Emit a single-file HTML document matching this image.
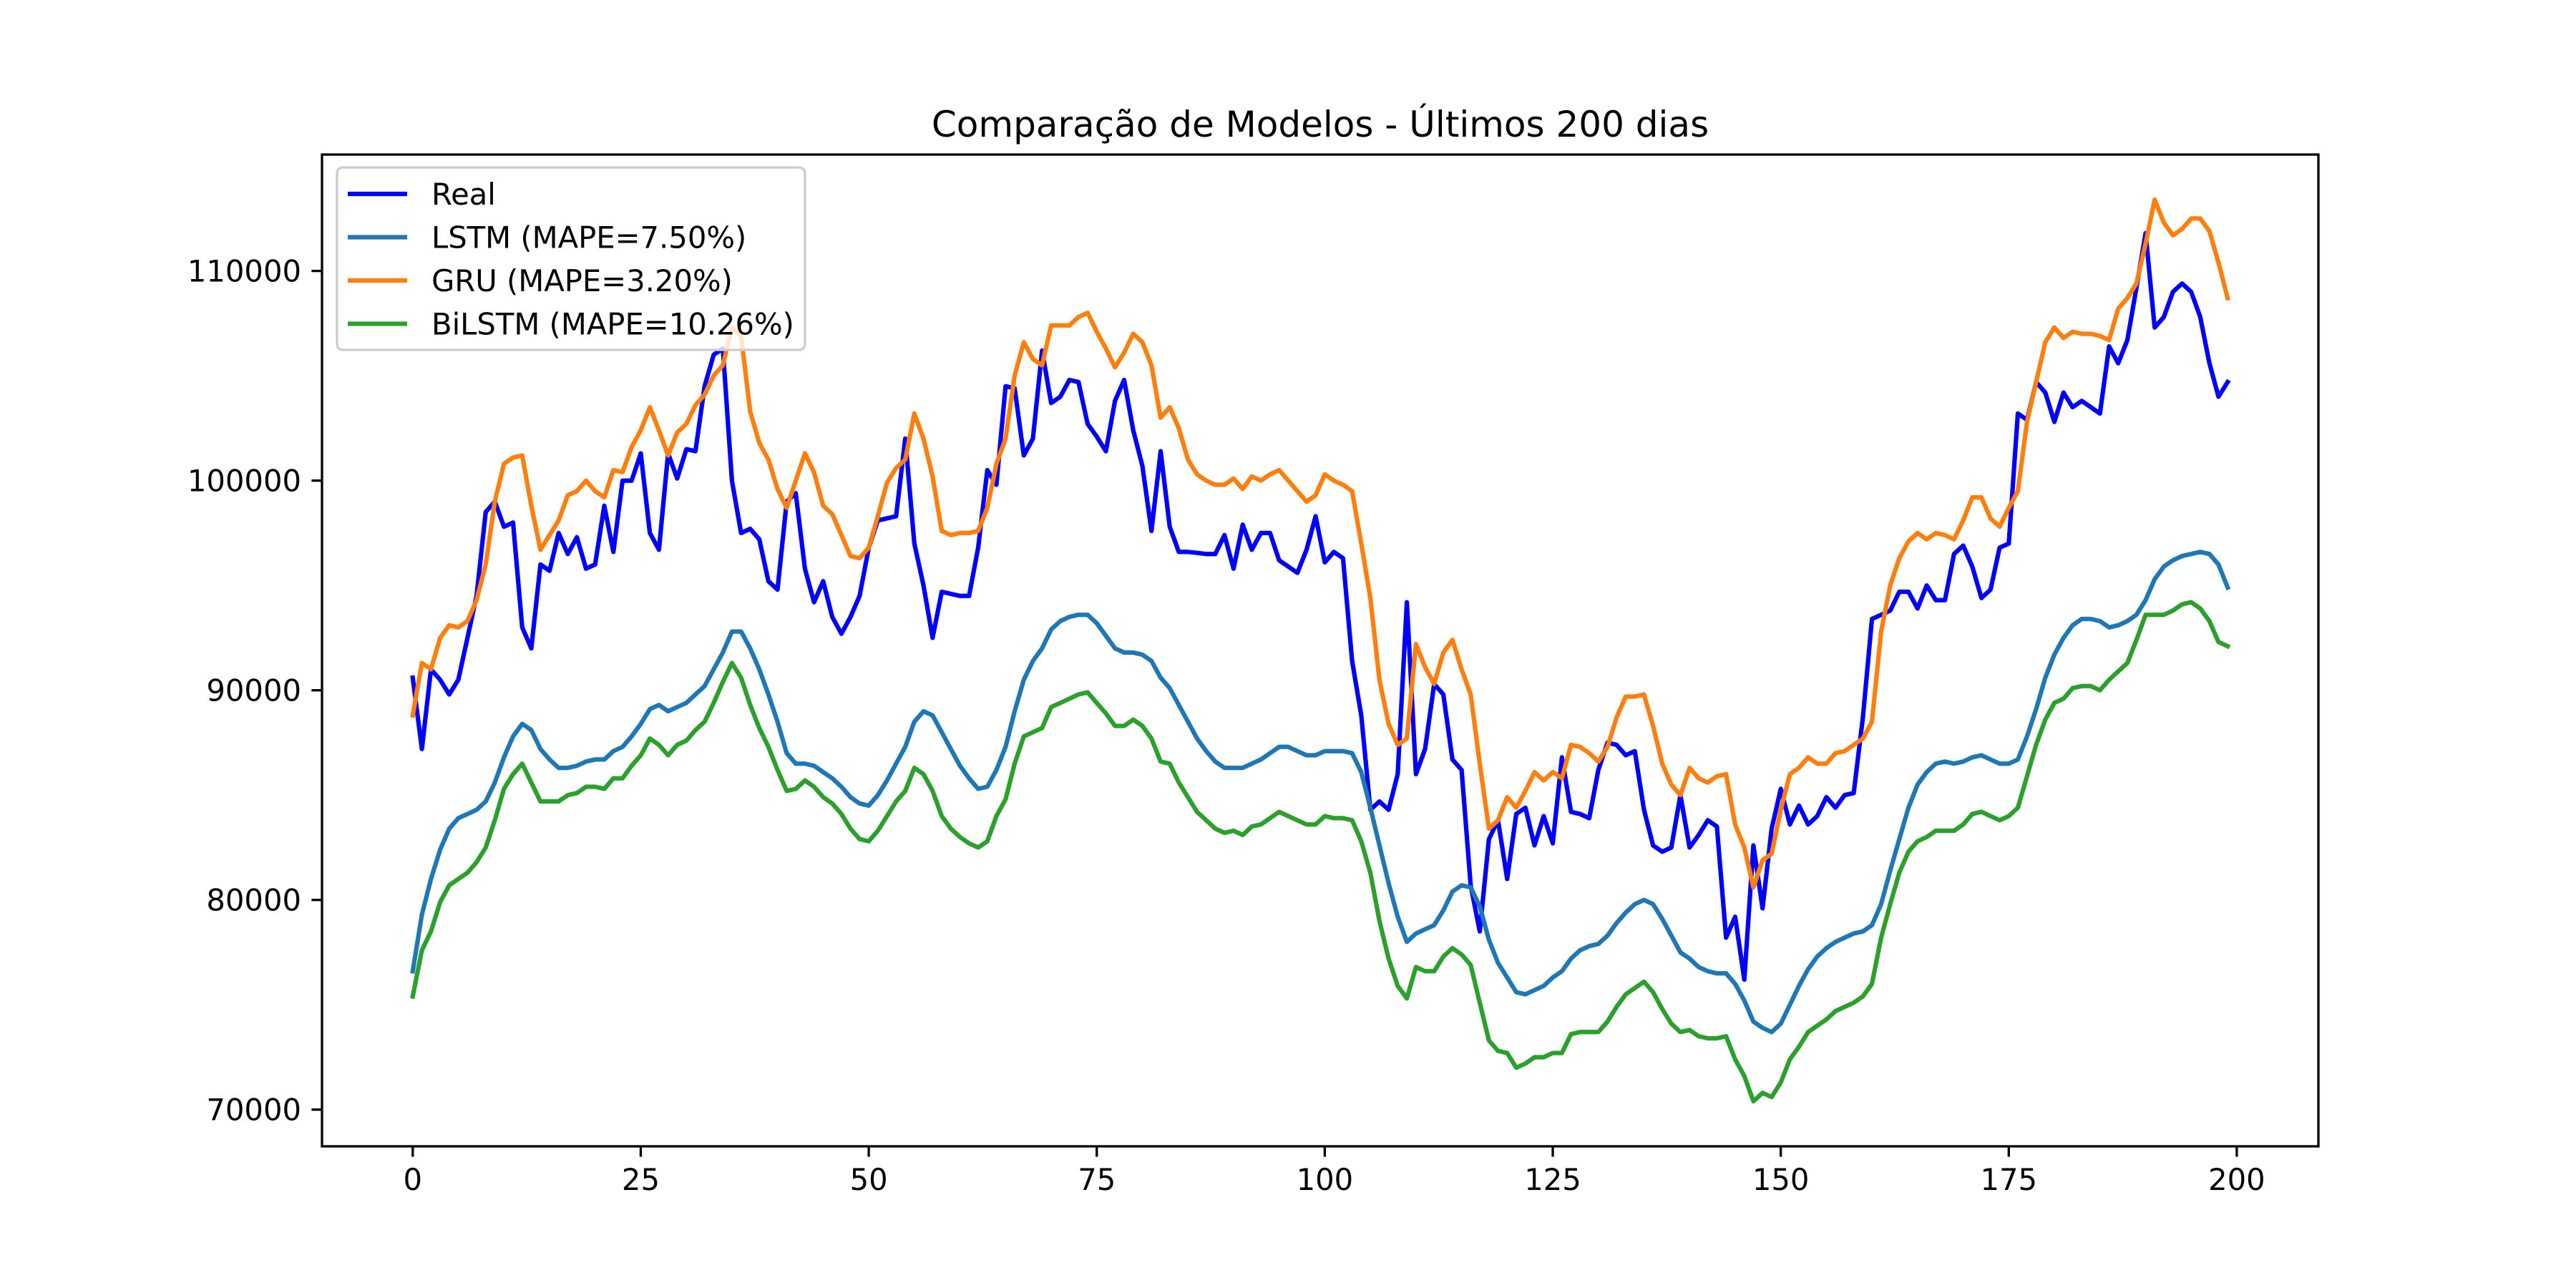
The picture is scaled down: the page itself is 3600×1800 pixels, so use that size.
<!DOCTYPE html>
<html><head><meta charset="utf-8"><style>
html,body{margin:0;padding:0;background:#fff;}
svg{display:block;font-family:"DejaVu Sans","Liberation Sans",sans-serif;}
</style></head><body>
<svg id="chart" width="3600" height="1800" viewBox="0 0 3600 1800" xmlns="http://www.w3.org/2000/svg">
<rect width="3600" height="1800" fill="#fff"/>
<text x="1845" y="191" font-size="50" text-anchor="middle" fill="#000">Comparação de Modelos - Últimos 200 dias</text>
<g id="series"></g>
<rect x="450" y="216" width="2790" height="1386" fill="none" stroke="#000" stroke-width="3.3"/>
<g id="ticks"></g>
<g id="legend"></g>
</svg>
<script>
const realValues=[90600,87200,91000,90500,89800,90500,92500,94500,98500,99000,97800,98000,93000,92000,96000,95700,97500,96500,97300,95800,96000,98800,96600,100000,100000,101300,97500,96700,101300,100100,101500,101400,104500,106000,106300,100000,97500,97700,97200,95200,94800,99000,99400,95800,94200,95200,93500,92700,93500,94500,96800,98100,98200,98300,102000,97000,95000,92500,94700,94600,94500,94500,96800,100500,99800,104500,104400,101200,102000,106200,103700,104000,104800,104700,102700,102100,101400,103800,104800,102400,100700,97600,101400,97800,96600,96600,96550,96500,96500,97400,95800,97900,96700,97500,97500,96200,95900,95600,96700,98300,96100,96600,96300,91400,88800,84300,84700,84300,86000,94200,86000,87200,90300,89800,86700,86200,80700,78500,82900,83800,81000,84100,84400,82600,84000,82700,86800,84200,84100,83900,86200,87500,87400,86900,87100,84300,82600,82300,82500,85000,82500,83100,83800,83500,78200,79200,76200,82600,79600,83400,85300,83600,84500,83600,84000,84900,84400,85000,85100,88700,93400,93600,93800,94700,94700,93900,95000,94300,94300,96500,96900,95900,94400,94800,96800,97000,103200,102900,104700,104200,102800,104200,103500,103800,103500,103200,106400,105600,106700,109200,111800,107300,107800,109000,109400,109000,107800,105600,104000,104700];
const lstmValues=[76600,79300,81000,82400,83400,83900,84100,84300,84700,85600,86800,87800,88400,88100,87200,86700,86300,86300,86400,86600,86700,86700,87100,87300,87800,88400,89100,89300,89000,89200,89400,89800,90200,91000,91800,92800,92800,92000,91000,89800,88500,87000,86500,86500,86400,86100,85800,85400,84900,84600,84500,85000,85700,86500,87300,88500,89000,88800,88000,87200,86400,85800,85300,85400,86200,87300,89000,90500,91400,92000,92900,93300,93500,93600,93600,93200,92600,92000,91800,91800,91700,91400,90600,90100,89300,88500,87700,87100,86600,86300,86300,86300,86500,86700,87000,87300,87300,87100,86900,86900,87100,87100,87100,87000,86100,84400,82600,80800,79200,78000,78400,78600,78800,79500,80400,80700,80600,79700,78100,77000,76300,75600,75500,75700,75900,76300,76600,77200,77600,77800,77900,78300,78900,79400,79800,80000,79800,79100,78300,77500,77200,76800,76600,76500,76500,76000,75200,74200,73900,73700,74100,75000,75900,76700,77300,77700,78000,78200,78400,78500,78800,79800,81400,82900,84400,85500,86100,86500,86600,86500,86600,86800,86900,86700,86500,86500,86700,87800,89100,90600,91700,92500,93100,93400,93400,93300,93000,93100,93300,93600,94300,95300,95900,96200,96400,96500,96600,96500,96000,94900];
const gruValues=[88800,91300,91000,92500,93100,93000,93300,94300,96000,99000,100800,101100,101200,98800,96700,97400,98100,99300,99500,100000,99500,99200,100500,100400,101600,102400,103500,102400,101200,102300,102700,103600,104100,105000,105500,107300,106900,103300,101800,101000,99600,98700,100000,101300,100400,98800,98400,97400,96400,96300,96800,98300,99900,100600,101000,103200,102000,100200,97600,97400,97500,97500,97600,98700,100800,102000,105000,106600,105800,105500,107400,107400,107400,107800,108000,107100,106300,105400,106100,107000,106600,105500,103000,103500,102500,101000,100300,100000,99800,99800,100100,99600,100200,100000,100300,100500,100000,99500,99000,99300,100300,100000,99800,99500,97000,94400,90500,88400,87400,87700,92200,91100,90300,91800,92400,91000,89800,86500,83400,83800,84900,84400,85200,86100,85700,86100,85800,87400,87300,87000,86600,87300,88700,89700,89700,89800,88300,86500,85500,85000,86300,85800,85600,85900,86000,83600,82500,80600,81900,82200,84300,86000,86300,86800,86500,86500,87000,87100,87400,87700,88500,92800,95000,96300,97100,97500,97200,97500,97400,97200,98100,99200,99200,98200,97800,98700,99500,102800,104700,106600,107300,106800,107100,107000,107000,106900,106700,108200,108700,109400,111300,113400,112300,111700,112000,112500,112500,111900,110400,108700];
const bilstmValues=[75400,77600,78500,79900,80700,81000,81300,81800,82500,83800,85300,86000,86500,85600,84700,84700,84700,85000,85100,85400,85400,85300,85800,85800,86400,86900,87700,87400,86900,87400,87600,88100,88500,89400,90400,91300,90600,89300,88200,87300,86200,85200,85300,85700,85400,84900,84600,84100,83400,82900,82800,83300,84000,84700,85200,86300,86000,85200,84000,83400,83000,82700,82500,82800,84000,84800,86500,87800,88000,88200,89200,89400,89600,89800,89900,89400,88900,88300,88300,88600,88300,87700,86600,86500,85600,84900,84200,83800,83400,83200,83300,83100,83500,83600,83900,84200,84000,83800,83600,83600,84000,83900,83900,83800,82800,81300,79000,77200,75900,75300,76800,76600,76600,77300,77700,77400,76900,75100,73300,72800,72700,72000,72200,72500,72500,72700,72700,73600,73700,73700,73700,74200,74900,75500,75800,76100,75600,74800,74100,73700,73800,73500,73400,73400,73500,72400,71600,70400,70800,70600,71300,72400,73000,73700,74000,74300,74700,74900,75100,75400,76000,78200,79800,81300,82300,82800,83000,83300,83300,83300,83600,84100,84200,84000,83800,84000,84400,85900,87400,88600,89400,89600,90100,90200,90200,90000,90500,90900,91300,92400,93600,93600,93600,93800,94100,94200,93900,93300,92300,92100];
const xTicks=[0,25,50,75,100,125,150,175,200];
const yTicks=[70000,80000,90000,100000,110000];
const legendLabels=["Real","LSTM (MAPE=7.50%)","GRU (MAPE=3.20%)","BiLSTM (MAPE=10.26%)"];

const NS="http://www.w3.org/2000/svg";
const L=450,R=3240,T=216,B=1602;
const xmin=-9.95,xmax=208.95,ymin=68250,ymax=115550;
function sx(v){return L+(v-xmin)/(xmax-xmin)*(R-L);}
function sy(v){return B-(v-ymin)/(ymax-ymin)*(B-T);}
function mk(tag,attrs,parent){const e=document.createElementNS(NS,tag);for(const k in attrs)e.setAttribute(k,attrs[k]);parent.appendChild(e);return e;}

const seriesG=document.getElementById('series');
const defs=[[realValues,'#0000ff','line-real'],[lstmValues,'#1f77b4','line-lstm'],[gruValues,'#ff7f0e','line-gru'],[bilstmValues,'#2ca02c','line-bilstm']];
defs.forEach(d=>{
  const pts=d[0].map((v,i)=>sx(i).toFixed(1)+','+sy(v).toFixed(1)).join(' ');
  const p=mk('polyline',{points:pts,fill:'none',stroke:d[1],'stroke-width':6.25,'stroke-linejoin':'round','stroke-linecap':'square'},seriesG);
  
  
});

const tg=document.getElementById('ticks');
xTicks.forEach(t=>{
  const x=sx(t);
  const l=mk('line',{x1:x,x2:x,y1:B,y2:B+14.6,stroke:'#000','stroke-width':3.3},tg);
  
  
  const tx=mk('text',{x:x,y:B+61,'font-size':41.7,'text-anchor':'middle',fill:'#000'},tg);
  tx.textContent=t;
  
  
});
yTicks.forEach(t=>{
  const y=sy(t);
  const l=mk('line',{x1:L-14.6,x2:L,y1:y,y2:y,stroke:'#000','stroke-width':3.3},tg);
  
  
  const tx=mk('text',{x:L-29,y:y+15,'font-size':41.7,'text-anchor':'end',fill:'#000'},tg);
  tx.textContent=t;
  
  
});

const lg=document.getElementById('legend');
const box=mk('rect',{x:471,y:234,width:654,height:255,rx:8,fill:'#fff','fill-opacity':0.8,stroke:'#cccccc','stroke-width':3.3},lg);


legendLabels.forEach((lab,i)=>{
  const y=271+i*60.5;
  const g=mk('g',{},lg);
  
  
  const ln=mk('line',{x1:486,x2:569,y1:y,y2:y,stroke:defs[i][1],'stroke-width':6.25},g);
  
  
  const tx=mk('text',{x:603,y:y+15,'font-size':41.7,fill:'#000'},g);
  tx.textContent=lab;
  
  
});
</script>
</body></html>
